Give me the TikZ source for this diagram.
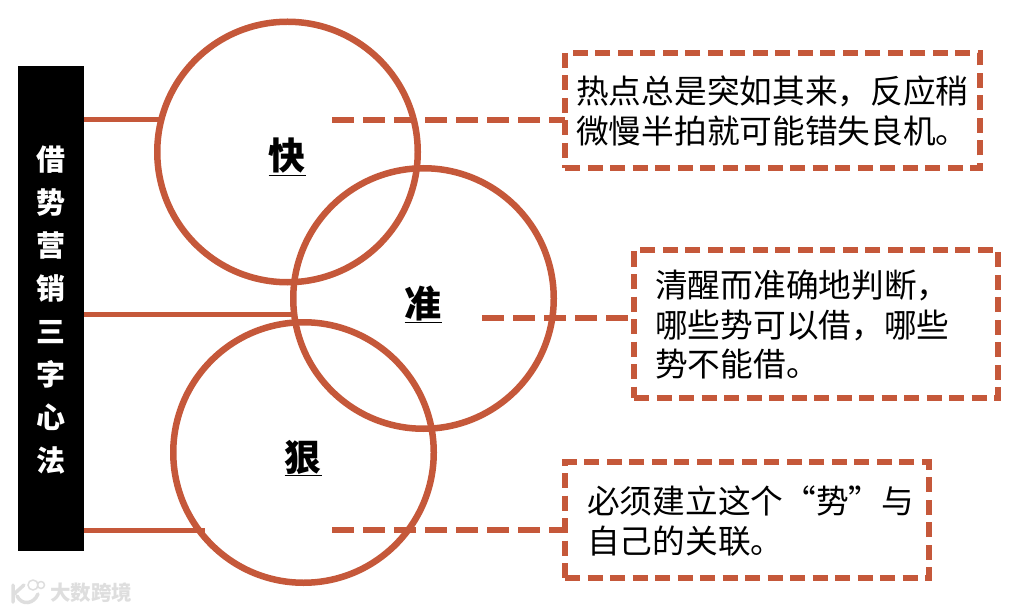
\documentclass[tikz,border=0pt]{standalone}
\usepackage{fontspec}
\setmainfont{Noto Sans CJK SC}
\usetikzlibrary{positioning}
\definecolor{rust}{RGB}{197,88,58}
\definecolor{wmgray}{RGB}{222,222,222}
\tikzset{
  ring/.style={draw=rust,line width=6.5pt,circle,minimum size=260.5pt,inner sep=0pt,outer sep=0pt},
  tap/.style={draw=rust,line width=5pt},
  lead/.style={draw=rust,line width=5.5pt,dash pattern=on 22pt off 9pt},
  notebox/.style={draw=rust,line width=6pt,dash pattern=on 15pt off 7.5pt,inner sep=0pt,outer sep=0pt,anchor=north west},
  note/.style={font=\fontsize{32.7}{39.5}\selectfont,align=left,anchor=west,inner sep=0pt},
  letter/.style={font=\fontsize{37}{37}\bfseries\selectfont,inner sep=0pt},
}
\begin{document}
\begin{tikzpicture}[x=1pt,y=-1pt]
  \useasboundingbox (0,0) rectangle (1011,612);
  % title bar
  \node[fill=black,minimum width=66pt,minimum height=485pt,inner sep=0pt,outer sep=0pt,anchor=north west] (bar) at (18,66) {};
  \node[text=white,align=center,inner sep=0pt,font=\fontsize{29}{43}\bfseries\selectfont] (title) at (51,310)
    {借\\势\\营\\销\\三\\字\\心\\法};
  % circles
  \node[ring] (kuai) at (287.5,152) {};
  \node[ring] (zhun) at (423.5,298.5) {};
  \node[ring] (hen) at (303.5,452.5) {};
  \node[letter] (kuaiw) at (287,157) {\underline{快}};
  \node[letter] (zhunw) at (423,304) {\underline{准}};
  \node[letter] (henw) at (303,458) {\underline{狠}};
  % boxes
  \node[notebox,minimum width=415pt,minimum height=115pt] (boxa) at (565,53) {};
  \node[notebox,minimum width=364pt,minimum height=148pt] (boxb) at (634,250) {};
  \node[notebox,minimum width=364pt,minimum height=116pt] (boxc) at (565,462) {};
  \node[note] (texta) at (576,111) {热点总是突如其来，反应稍\\微慢半拍就可能错失良机。};
  \node[note] (textb) at (655,325) {清醒而准确地判断，\\哪些势可以借，哪些\\势不能借。};
  \node[note] (textc) at (587,521) {必须建立这个“势”与\\自己的关联。};
  % connectors
  \coordinate (tapa) at (160,120);
  \coordinate (tapb) at (297,314);
  \coordinate (tapc) at (205,530);
  \draw[tap] (bar.east |- tapa)--(tapa);
  \draw[tap] (bar.east |- tapb)--(tapb);
  \draw[tap] (bar.east |- tapc)--(tapc);
  \coordinate (leada) at (332,120);
  \coordinate (leadb) at (482,318);
  \coordinate (leadc) at (332,530);
  \draw[lead] (leada)--(leada -| boxa.west);
  \draw[lead] (leadb)--(leadb -| boxb.west);
  \draw[lead] (leadc)--(leadc -| boxc.west);
  % watermark
  \draw[wmgray,line width=3.5pt,line cap=round] (13,585)--(13,602) (14,594)--(24,585) (17,596) .. controls (22,606) and (34,604) .. (38,594);
  \draw[wmgray,line width=1.5pt] (33,585) circle (5) (41,585) circle (3.5);
  \node[text=wmgray,inner sep=0pt,anchor=west,font=\fontsize{20.5}{20.5}\bfseries\selectfont] (brand) at (50,593) {大数跨境};
\end{tikzpicture}
\end{document}
